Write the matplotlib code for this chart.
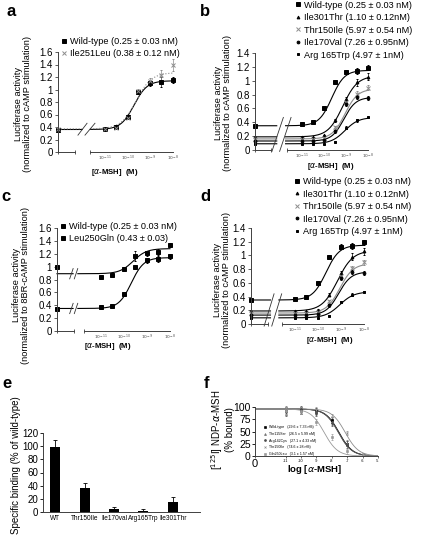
import numpy as np
import matplotlib
matplotlib.use('Agg')
import matplotlib.pyplot as plt

plt.rcParams['font.family'] = ['Liberation Sans', 'DejaVu Sans']

W, H = 435, 544

# doses (M) of the luciferase panels; the control (no hormone) sits at the left edge
doses = [1e-11, 3e-11, 1e-10, 3e-10, 1e-9, 3e-9, 1e-8]
dose_ticks = [-11, -10, -9, -8]
dose_ticklabels = ['$10^{-11}$', '$10^{-10}$', '$10^{-9}$', '$10^{-8}$']

# panel a  (fit = bottom, top, logEC50, hill)
a_labels = ['Wild-type (0.25 ± 0.03 nM)', 'Ile251Leu (0.38 ± 0.12 nM)']
a_ctrl = [0.36, 0.37]
a_wt = [0.37, 0.40, 0.56, 0.96, 1.10, 1.12, 1.15]
a_wt_err = [0.0, 0.0, 0.01, 0.03, 0.04, 0.08, 0.05]
a_mut = [0.37, 0.38, 0.55, 0.98, 1.14, 1.23, 1.39]
a_mut_err = [0.0, 0.0, 0.01, 0.03, 0.05, 0.09, 0.1]
a_fit = [(0.36, 1.14, -9.72, 1.5), (0.37, 1.27, -9.62, 1.3)]

# panels b and d
b_labels = ['Wild-type (0.25 ± 0.03 nM)', 'Ile301Thr (1.10 ± 0.12nM)',
            'Thr150Ile (5.97 ± 0.54 nM)', 'Ile170Val (7.26 ± 0.95nM)',
            'Arg 165Trp (4.97 ± 1nM)']
b_ctrl = [0.35, 0.19, 0.16, 0.13, 0.09]
b_vals = [
    [0.37, 0.40, 0.60, 0.98, 1.13, 1.14, 1.19],
    [0.19, 0.19, 0.21, 0.43, 0.74, 0.98, 1.06],
    [0.16, 0.16, 0.17, 0.33, 0.70, 0.81, 0.90],
    [0.13, 0.13, 0.15, 0.27, 0.67, 0.76, 0.75],
    [0.09, 0.09, 0.09, 0.12, 0.32, 0.43, 0.47],
]
b_errs = [
    [0.0, 0.0, 0.01, 0.02, 0.03, 0.04, 0.04],
    [0.0, 0.0, 0.01, 0.02, 0.03, 0.05, 0.05],
    [0.0, 0.0, 0.01, 0.02, 0.04, 0.04, 0.04],
    [0.0, 0.0, 0.01, 0.02, 0.03, 0.03, 0.03],
    [0.0, 0.0, 0.0, 0.01, 0.02, 0.02, 0.01],
]
b_fit = [(0.35, 1.15, -9.65, 1.5), (0.19, 1.07, -9.15, 1.3), (0.16, 0.88, -9.05, 1.5),
         (0.13, 0.76, -9.1, 1.6), (0.09, 0.47, -9.05, 1.4)]

# panel c
c_labels = ['Wild-type (0.25 ± 0.03 nM)', 'Leu250Gln (0.43 ± 0.03)']
c_ctrl = [0.34, 0.99]
c_wt = [0.37, 0.39, 0.57, 0.99, 1.10, 1.12, 1.16]
c_wt_err = [0.0, 0.0, 0.01, 0.03, 0.04, 0.05, 0.04]
c_mut = [0.84, 0.87, 0.96, 1.16, 1.21, 1.23, 1.33]
c_mut_err = [0.0, 0.0, 0.01, 0.08, 0.04, 0.05, 0.03]
c_fit = [(0.35, 1.14, -9.68, 1.6), (0.89, 1.28, -9.6, 1.5)]

# panel e
e_names = ['WT', 'Thr150Ile', 'Ile170val', 'Arg165Trp', 'Ile301Thr']
e_vals = [98, 36, 5, 1, 15]
e_errs = [12, 8, 3, 4, 8]

# panel f
f_logconc = [-11, -10, -9, -8, -7, -6]
f_labels = ['Wild-type   (29.6 ± 7.33 nM)', 'Thr115Ser   (26.5 ± 5.99 nM)',
            'Arg142Cys   (27.1 ± 4.33 nM)', 'Thr150Ile   (74.6 ± 28 nM)',
            'Gln250Leu   (3.1 ± 1.57 nM)']
f_vals = [
    [92, 93, 92, 73, 25, 3],
    [94, 92, 90, 70, 27, 2],
    [90, 95, 88, 67, 22, 3],
    [93, 92, 93, 80, 47, 5],
    [92, 92, 70, 39, 10, 2],
]
f_errs = [8, 7, 6, 6, 5, 2]
f_fit = [(96, 0, -7.53, 1.0), (96, 0, -7.58, 1.0), (96, 0, -7.57, 1.0),
         (96, 0, -7.13, 1.0), (96, 0, -8.5, 1.0)]


def hill(x, bottom, top, logec, h):
    return bottom + (top - bottom) / (1 + 10 ** ((logec - x) * h))


fig = plt.figure(figsize=(W / 100, H / 100), dpi=100)


def add_ax(left, right, bottom, top):
    # box given in pixels of the picture
    return fig.add_axes([left / W, 1 - bottom / H, (right - left) / W, (bottom - top) / H])


def px(x, y):
    return x / W, 1 - y / H


def style_axis(ax):
    for s in ['top', 'right', 'bottom']:
        ax.spines[s].set_visible(False)
    ax.spines['left'].set_linewidth(0.7)
    ax.spines['left'].set_color('0.25')
    ax.tick_params(axis='y', labelsize=7, length=2, width=0.6, pad=1.5, color='0.25')


def dose_panel(ax, lo, ymax, series, gap, seg2, slashes):
    xs = np.linspace(lo, -8, 500)
    logd = np.log10(doses)
    handles = []
    for ctrl, vals, errs, fit, mk, col, ls, ms in series:
        yc = hill(xs, *fit)
        yc[(xs > gap[0]) & (xs < gap[1])] = np.nan
        ax.plot(xs, yc, color=col, lw=0.8, ls=ls, clip_on=False)
        ax.errorbar(logd, vals, yerr=errs, fmt=mk, color=col, ms=ms, mew=0.7,
                    elinewidth=0.5, capsize=1, capthick=0.5, clip_on=False)
        h, = ax.plot([lo], [ctrl], mk, color=col, ms=ms, mew=0.7, clip_on=False)
        handles.append(h)
    for (x0, y0, x1, y1) in slashes:
        ax.plot([x0, x1], [y0, y1], color='0.2', lw=0.6, clip_on=False)
    # broken x axis
    ax.plot([lo, lo + 0.75], [0, 0], color='0.25', lw=0.7, marker='|', ms=3, mew=0.6, clip_on=False)
    ax.plot([seg2, -8], [0, 0], color='0.25', lw=0.7, clip_on=False)
    ax.plot([seg2], [0], color='0.25', marker='|', ms=3, mew=0.6, clip_on=False)
    ax.set_xlim(lo, -8)
    ax.set_ylim(0, ymax)
    style_axis(ax)
    ax.set_xticks(dose_ticks)
    ax.set_xticklabels(dose_ticklabels)
    ax.tick_params(axis='x', labelsize=3.2, length=0, pad=1.5, labelcolor='0.3')
    yt = np.round(np.arange(0, ymax + 0.01, 0.2), 1)
    ax.set_yticks(yt)
    ax.set_yticklabels([f'{v:g}' for v in yt])
    return handles


def add_legend(ax, handles, labels, xy, fs=6.6):
    ax.legend(handles, labels, loc='upper left', bbox_to_anchor=xy, frameon=False,
              fontsize=fs, handlelength=0.5, handletextpad=0.4, labelspacing=0.38,
              borderpad=0, borderaxespad=0)


# ---- a ----
ax_a = add_ax(58, 173, 152, 52)
lo = -13.07
h = dose_panel(ax_a, lo, 1.6,
               [(a_ctrl[0], a_wt, a_wt_err, a_fit[0], 's', 'k', '-', 2.3),
                (a_ctrl[1], a_mut, a_mut_err, a_fit[1], 'x', '0.55', ':', 2.3)],
               gap=(-12.0, -11.65), seg2=-11.66,
               slashes=[(-12.19, 0.27, -11.79, 0.46), (-11.88, 0.27, -11.44, 0.46)])
add_legend(ax_a, h, a_labels, (0.03, 1.15))

# ---- b ----
b_style = [('s', 'k', 2.3), ('^', 'k', 2.0), ('x', '0.55', 2.3), ('o', 'k', 2.0), ('s', 'k', 2.0)]


def b_series():
    return [(b_ctrl[i], b_vals[i], b_errs[i], b_fit[i], b_style[i][0], b_style[i][1], '-', b_style[i][2])
            for i in range(5)]


ax_b = add_ax(255, 368, 150, 53)
lo = -13.14
h = dose_panel(ax_b, lo, 1.4, b_series(), gap=(-12.15, -11.75), seg2=-11.68,
               slashes=[(-12.37, -0.02, -11.85, 0.47), (-12.02, -0.02, -11.5, 0.47)])
add_legend(ax_b, h, b_labels, (0.36, 1.54))

# ---- c ----
ax_c = add_ax(57, 170, 331, 228)
lo = -12.9
h = dose_panel(ax_c, lo, 1.6,
               [(c_ctrl[0], c_wt, c_wt_err, c_fit[0], 's', 'k', '-', 2.3),
                (c_ctrl[1], c_mut, c_mut_err, c_fit[1], 's', 'k', '-', 2.3)],
               gap=(-12.2, -12.0), seg2=-11.74,
               slashes=[(-12.35, 0.27, -12.2, 0.43), (-12.15, 0.27, -12.0, 0.43),
                        (-12.35, 0.81, -12.2, 0.97), (-12.15, 0.81, -12.0, 0.97)])
add_legend(ax_c, h, c_labels, (0.03, 1.06))

# ---- d ----
ax_d = add_ax(251, 364, 324, 228)
lo = -12.9
h = dose_panel(ax_d, lo, 1.4, b_series(), gap=(-12.05, -11.7), seg2=-11.56,
               slashes=[(-12.33, -0.03, -11.9, 0.44), (-12.0, -0.03, -11.57, 0.44)])
add_legend(ax_d, h, b_labels, (0.39, 1.53))

# axis titles of the luciferase panels
lab_cAMP = 'Luciferase activity\n(normalized to cAMP stimulation)'
lab_8BR = 'Luciferase activity\n(normalized to 8BR-cAMP stimulation)'
for (x, y), txt in [((23, 104), lab_cAMP), ((223, 103), lab_cAMP),
                    ((21, 285), lab_8BR), ((222, 280), lab_cAMP)]:
    fig.text(*px(x, y), txt, rotation=90, ha='center', va='center', fontsize=6.7, linespacing=1.05)
for x, y in [(115, 173), (331, 167), (108, 347), (330, 340)]:
    fig.text(*px(x, y), r'[$\alpha$-MSH]  (M)', ha='center', va='center', fontsize=5.6, fontweight='bold')

# ---- e ----
ax_e = add_ax(43, 200, 512, 433)
xe = np.arange(len(e_names))
ax_e.bar(xe, e_vals, width=0.34, color='k', yerr=[np.zeros(len(e_errs)), e_errs],
         error_kw=dict(elinewidth=0.6, capsize=1.5, capthick=0.6, ecolor='k'))
ax_e.set_xlim(-0.41, 4.92)
ax_e.set_ylim(0, 120)
for s in ['top', 'right']:
    ax_e.spines[s].set_visible(False)
for s in ['left', 'bottom']:
    ax_e.spines[s].set_linewidth(0.7)
    ax_e.spines[s].set_color('0.25')
ax_e.set_yticks(range(0, 121, 20))
ax_e.set_xticks(xe)
ax_e.set_xticklabels(e_names)
ax_e.tick_params(axis='x', labelsize=4.7, length=0, pad=2)
ax_e.tick_params(axis='y', labelsize=7, length=2, width=0.6, pad=1.5)
fig.text(*px(16, 465), 'Specific binding (% of wild-type)', rotation=90, ha='center', va='center', fontsize=7)

# ---- f ----
ax_f = add_ax(255, 378, 456, 407)
xf = np.linspace(-13, -5, 400)
f_cols = ['k', '0.45', '0.3', '0.55', '0.6']
f_marks = ['s', '^', 'o', 'x', 's']
hf = []
for i in range(5):
    ax_f.plot(xf, hill(xf, *f_fit[i]), color=f_cols[i], lw=0.6)
    ax_f.errorbar(f_logconc, f_vals[i], yerr=f_errs, fmt=f_marks[i], color=f_cols[i], ms=1.4,
                  mew=0.5, elinewidth=0.4, capsize=0.8, capthick=0.4, clip_on=False)
    hh, = ax_f.plot([], [], f_marks[i], color=f_cols[i], ms=1.4, mew=0.5)
    hf.append(hh)
ax_f.set_xlim(-13, -5)
ax_f.set_ylim(0, 100)
for s in ['top', 'right']:
    ax_f.spines[s].set_visible(False)
for s in ['left', 'bottom']:
    ax_f.spines[s].set_linewidth(0.7)
    ax_f.spines[s].set_color('0.25')
ax_f.set_yticks([0, 25, 50, 75, 100])
ax_f.tick_params(axis='y', labelsize=7.5, length=2, width=0.6, pad=1)
ax_f.set_xticks([-13, -11, -10, -9, -8, -7, -6, -5])
ax_f.set_xticklabels(['0', '-11', '-10', '-9', '-8', '-7', '-6', '-5'])
ax_f.tick_params(axis='x', labelsize=2.8, length=1.2, width=0.4, pad=1)
ax_f.get_xticklabels()[0].set_fontsize(8)
ax_f.legend(hf, f_labels, loc='upper left', bbox_to_anchor=(0.07, 0.63), frameon=False,
            fontsize=2.6, handlelength=0.6, handletextpad=0.8, labelspacing=0.75,
            borderpad=0, borderaxespad=0)
fig.text(*px(222, 430), '[$^{125}$I] NDP-$\\alpha$-MSH\n(% bound)', rotation=90, ha='center', va='center',
         fontsize=7, linespacing=1.05)
fig.text(*px(315, 470), r'log [$\alpha$-MSH]', ha='center', va='center', fontsize=6.8, fontweight='bold')

# panel letters
for (x, y), let in [((11, 12), 'a'), ((205, 12), 'b'), ((6, 197), 'c'), ((205, 197), 'd'),
                    ((7, 383), 'e'), ((207, 383), 'f')]:
    fig.text(*px(x, y), let, ha='center', va='center', fontsize=12, fontweight='bold')

fig.savefig('out.png', dpi=100)
